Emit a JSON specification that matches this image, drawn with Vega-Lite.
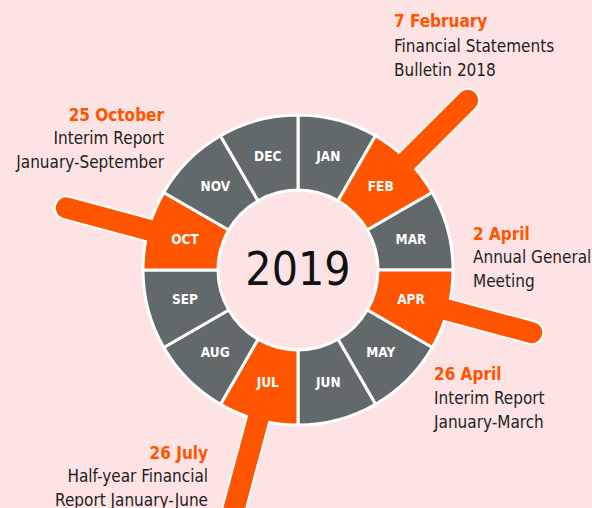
{
  "$schema": "https://vega.github.io/schema/vega-lite/v6.json",
  "width": 588,
  "height": 476,
  "padding": {"left": 4, "top": 32, "right": 0, "bottom": 0},
  "autosize": {"type": "none"},
  "background": "#fde3e3",
  "config": {"view": {"stroke": null}},
  "datasets": {
    "months": [
      {"month": "JAN", "idx": 1, "share": 1, "status": "none"},
      {"month": "FEB", "idx": 2, "share": 1, "status": "event"},
      {"month": "MAR", "idx": 3, "share": 1, "status": "none"},
      {"month": "APR", "idx": 4, "share": 1, "status": "event"},
      {"month": "MAY", "idx": 5, "share": 1, "status": "none"},
      {"month": "JUN", "idx": 6, "share": 1, "status": "none"},
      {"month": "JUL", "idx": 7, "share": 1, "status": "event"},
      {"month": "AUG", "idx": 8, "share": 1, "status": "none"},
      {"month": "SEP", "idx": 9, "share": 1, "status": "none"},
      {"month": "OCT", "idx": 10, "share": 1, "status": "event"},
      {"month": "NOV", "idx": 11, "share": 1, "status": "none"},
      {"month": "DEC", "idx": 12, "share": 1, "status": "none"}
    ],
    "sticks": [
      {"month": "FEB", "x": 99, "y": 99, "x2": 169.7, "y2": 169.7},
      {"month": "APR", "x": 135.2, "y": -36.2, "x2": 233.8, "y2": -62.6},
      {"month": "JUL", "x": -36.2, "y": -135.2, "x2": -68.6, "y2": -256},
      {"month": "OCT", "x": -135.2, "y": 36.2, "x2": -231.8, "y2": 62.1}
    ],
    "dates": [
      {"label": "7 February", "x": 96, "y": 243, "side": "left"},
      {"label": "2 April", "x": 175, "y": 30, "side": "left"},
      {"label": "26 April", "x": 136, "y": -110, "side": "left"},
      {"label": "25 October", "x": -134, "y": 149, "side": "right"},
      {"label": "26 July", "x": -90, "y": -189, "side": "right"}
    ],
    "bodies": [
      {"label": "Financial Statements\nBulletin 2018", "x": 96, "y": 218, "side": "left"},
      {"label": "Annual  General\nMeeting", "x": 175, "y": 7, "side": "left"},
      {"label": "Interim Report\nJanuary-March", "x": 136, "y": -134, "side": "left"},
      {"label": "Interim Report\nJanuary-September", "x": -134, "y": 126, "side": "right"},
      {"label": "Half-year Financial\nReport January-June", "x": -90, "y": -212, "side": "right"}
    ],
    "center": [{"label": "2019", "x": 0, "y": 0}]
  },
  "layer": [
    {
      "data": {"name": "sticks"},
      "mark": {"type": "rule", "strokeWidth": 25, "strokeCap": "round", "color": "white", "clip": true},
      "encoding": {
        "x": {"field": "x", "type": "quantitative", "scale": {"domain": [-294, 294], "nice": false, "zero": false}, "axis": null},
        "y": {"field": "y", "type": "quantitative", "scale": {"domain": [-238, 238], "nice": false, "zero": false}, "axis": null},
        "x2": {"field": "x2"},
        "y2": {"field": "y2"}
      }
    },
    {
      "data": {"name": "months"},
      "encoding": {
        "theta": {"field": "share", "type": "quantitative", "stack": true},
        "order": {"field": "idx", "type": "quantitative"}
      },
      "layer": [
        {
          "mark": {"type": "arc", "innerRadius": 80, "outerRadius": 155, "stroke": "white", "strokeWidth": 3},
          "encoding": {
            "color": {"field": "status", "type": "nominal", "scale": {"domain": ["event", "none"], "range": ["#ff5400", "#62696a"]}, "legend": null}
          }
        }
      ]
    },
    {
      "data": {"name": "sticks"},
      "mark": {"type": "rule", "strokeWidth": 21, "strokeCap": "round", "color": "#ff5400", "clip": true},
      "encoding": {
        "x": {"field": "x", "type": "quantitative"},
        "y": {"field": "y", "type": "quantitative"},
        "x2": {"field": "x2"},
        "y2": {"field": "y2"}
      }
    },
    {
      "data": {"name": "months"},
      "mark": {"type": "text", "radius": 117, "font": "DejaVu Sans Condensed, sans-serif", "fontWeight": "bold", "fontSize": 13.5, "color": "white", "baseline": "middle", "align": "center"},
      "encoding": {
        "theta": {"field": "share", "type": "quantitative", "stack": true},
        "order": {"field": "idx", "type": "quantitative"},
        "text": {"field": "month"}
      }
    },
    {
      "data": {"name": "center"},
      "mark": {"type": "text", "font": "DejaVu Sans Condensed, sans-serif", "fontSize": 46, "color": "#111111", "baseline": "middle", "align": "center", "dy": 1},
      "encoding": {
        "x": {"field": "x", "type": "quantitative"},
        "y": {"field": "y", "type": "quantitative"},
        "text": {"field": "label"}
      }
    },
    {
      "data": {"name": "dates"},
      "transform": [{"filter": "datum.side === 'left'"}],
      "mark": {"type": "text", "font": "DejaVu Sans Condensed, sans-serif", "fontWeight": "bold", "fontSize": 17, "color": "#ff5400", "baseline": "alphabetic", "align": "left"},
      "encoding": {
        "x": {"field": "x", "type": "quantitative"},
        "y": {"field": "y", "type": "quantitative"},
        "text": {"field": "label"}
      }
    },
    {
      "data": {"name": "dates"},
      "transform": [{"filter": "datum.side === 'right'"}],
      "mark": {"type": "text", "font": "DejaVu Sans Condensed, sans-serif", "fontWeight": "bold", "fontSize": 17, "color": "#ff5400", "baseline": "alphabetic", "align": "right"},
      "encoding": {
        "x": {"field": "x", "type": "quantitative"},
        "y": {"field": "y", "type": "quantitative"},
        "text": {"field": "label"}
      }
    },
    {
      "data": {"name": "bodies"},
      "transform": [{"filter": "datum.side === 'left'"}],
      "mark": {"type": "text", "font": "DejaVu Sans Condensed, sans-serif", "fontSize": 17, "color": "#1e1e1e", "baseline": "alphabetic", "align": "left", "lineBreak": "\n", "lineHeight": 23.5},
      "encoding": {
        "x": {"field": "x", "type": "quantitative"},
        "y": {"field": "y", "type": "quantitative"},
        "text": {"field": "label"}
      }
    },
    {
      "data": {"name": "bodies"},
      "transform": [{"filter": "datum.side === 'right'"}],
      "mark": {"type": "text", "font": "DejaVu Sans Condensed, sans-serif", "fontSize": 17, "color": "#1e1e1e", "baseline": "alphabetic", "align": "right", "lineBreak": "\n", "lineHeight": 23.5},
      "encoding": {
        "x": {"field": "x", "type": "quantitative"},
        "y": {"field": "y", "type": "quantitative"},
        "text": {"field": "label"}
      }
    }
  ]
}
